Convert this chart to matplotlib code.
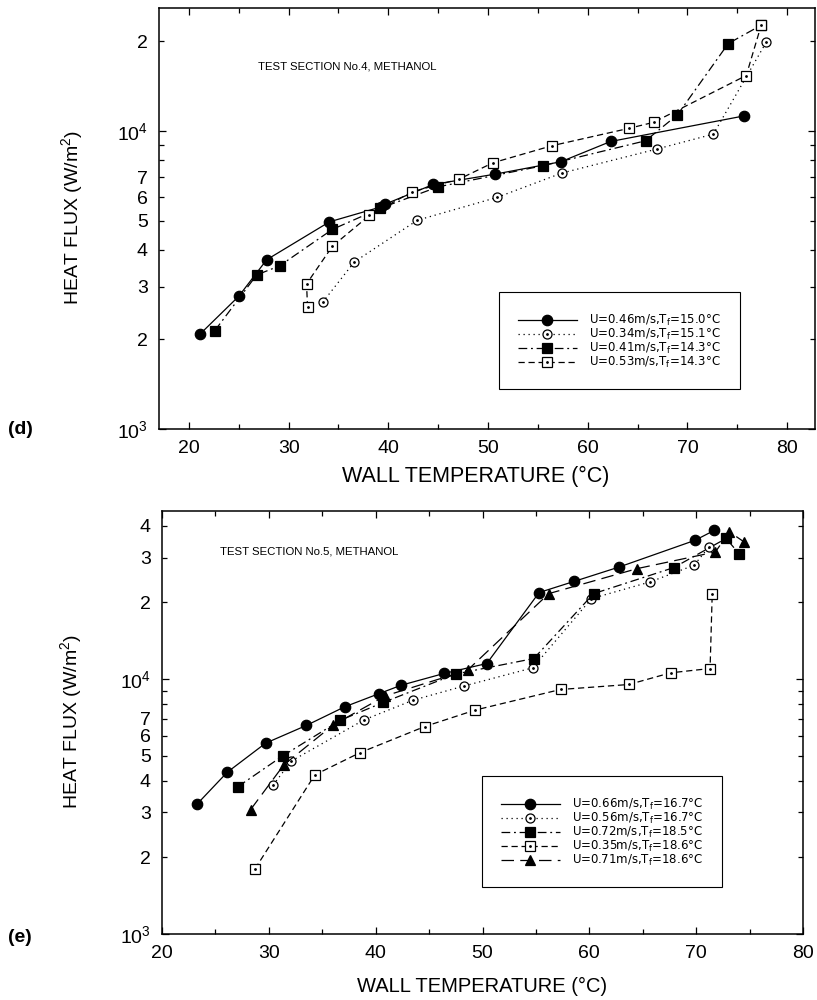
import numpy as np
import matplotlib
matplotlib.use('Agg')
import matplotlib.pyplot as plt
from matplotlib.ticker import MultipleLocator, LogLocator, FuncFormatter
from matplotlib.legend_handler import HandlerTuple

plt.rcParams['font.family'] = ['Liberation Sans', 'DejaVu Sans']

# ---- panel (d): test section No.4 ----
d_labels = [r'U=0.46m/s,T$_\mathregular{f}$=15.0°C',
            r'U=0.34m/s,T$_\mathregular{f}$=15.1°C',
            r'U=0.41m/s,T$_\mathregular{f}$=14.3°C',
            r'U=0.53m/s,T$_\mathregular{f}$=14.3°C']
d_T1 = [21.1, 25.0, 27.8, 34.1, 39.3, 39.7, 44.5, 50.7, 57.3, 62.3, 75.7]
d_q1 = [2080, 2790, 3700, 4960, 5570, 5690, 6620, 7170, 7890, 9230, 11250]
d_T2 = [33.4, 36.6, 42.9, 50.9, 57.4, 66.9, 72.6, 77.9]
d_q2 = [2660, 3640, 5020, 5990, 7230, 8700, 9770, 19870]
d_T3 = [22.6, 26.8, 29.1, 34.4, 39.2, 45.0, 55.5, 65.8, 69.0, 74.1, 77.4]
d_q3 = [2140, 3290, 3530, 4680, 5510, 6500, 7650, 9280, 11340, 19680, 22680]
d_T4 = [31.9, 31.8, 34.4, 38.1, 42.4, 47.1, 50.5, 56.4, 64.1, 66.6, 75.9, 77.4]
d_q4 = [2560, 3070, 4110, 5210, 6260, 6900, 7830, 8930, 10210, 10700, 15370, 22680]

# ---- panel (e): test section No.5 ----
e_labels = [r'U=0.66m/s,T$_\mathregular{f}$=16.7°C',
            r'U=0.56m/s,T$_\mathregular{f}$=16.7°C',
            r'U=0.72m/s,T$_\mathregular{f}$=18.5°C',
            r'U=0.35m/s,T$_\mathregular{f}$=18.6°C',
            r'U=0.71m/s,T$_\mathregular{f}$=18.6°C']
e_T1 = [23.3, 26.1, 29.7, 33.5, 37.1, 40.3, 42.4, 46.4, 50.4, 55.3, 58.6, 62.8, 69.9, 71.7]
e_q1 = [3240, 4310, 5610, 6580, 7790, 8770, 9470, 10530, 11520, 21880, 24210, 27560, 35080, 38370]
e_T2 = [30.4, 32.1, 38.9, 43.5, 48.3, 54.7, 60.2, 65.7, 69.8, 71.2]
e_q2 = [3840, 4770, 6920, 8270, 9410, 11080, 20710, 24090, 28000, 33030]
e_T3 = [27.1, 31.3, 36.7, 40.7, 47.5, 54.8, 60.4, 67.9, 72.8, 74.0]
e_q3 = [3785, 5000, 6900, 8100, 10480, 12050, 21660, 27400, 35660, 31120]
e_T4 = [28.7, 34.3, 38.5, 44.6, 49.3, 57.3, 63.7, 67.6, 71.3, 71.5]
e_q4 = [1800, 4210, 5140, 6520, 7560, 9110, 9530, 10590, 11010, 21600]
e_T5 = [28.3, 31.4, 36.0, 40.9, 48.6, 56.2, 64.5, 71.8, 73.1, 74.5]
e_q5 = [3080, 4610, 6600, 8600, 10850, 21660, 27170, 31560, 37860, 34520]

solid = '-'
dotted = (0, (1, 3))
dashdot = (0, (7, 3, 1.5, 3))
dashed = (0, (5, 3))
longdash = (0, (10, 5))

st_fcirc = dict(ls=solid, marker='o', mfc='k', ms=7.5)
st_ocirc = dict(ls=dotted, marker='o', mfc='w', ms=6.5)
st_fsq = dict(ls=dashdot, marker='s', mfc='k', ms=7)
st_osq = dict(ls=dashed, marker='s', mfc='w', ms=6.5)
st_tri = dict(ls=longdash, marker='^', mfc='k', ms=7)


def draw(ax, T, q, style):
    line, = ax.plot(T, q, color='k', mec='k', lw=0.9, mew=0.9, **style)
    if style['mfc'] == 'w':
        dot, = ax.plot(T, q, ls='none', marker='.', ms=2, color='k')
        return (line, dot)
    return (line,)


def minor_fmt(v, pos):
    dec = 10 ** np.floor(np.log10(v) + 1e-9)
    digit = int(round(v / dec))
    return str(digit) if 2 <= digit <= 7 else ''


def setup(ax, xlim, ylim):
    ax.set_yscale('log')
    ax.set_xlim(*xlim)
    ax.set_ylim(*ylim)
    ax.xaxis.set_major_locator(MultipleLocator(10))
    ax.xaxis.set_minor_locator(MultipleLocator(5))
    ax.yaxis.set_major_locator(LogLocator(base=10, numticks=10))
    ax.yaxis.set_minor_locator(LogLocator(base=10, subs=np.arange(2, 10), numticks=20))
    ax.yaxis.set_major_formatter(FuncFormatter(
        lambda v, p: r'$\mathregular{10^{%d}}$' % round(np.log10(v))))
    ax.yaxis.set_minor_formatter(FuncFormatter(minor_fmt))
    ax.tick_params(which='both', direction='in', top=True, right=True,
                   labelsize=14, pad=8, width=0.9)
    ax.tick_params(which='major', length=5)
    ax.tick_params(which='minor', length=3.5)
    for s in ax.spines.values():
        s.set_linewidth(1.1)


def add_legend(ax, handles, labels, anchor):
    leg = ax.legend(handles, labels, handler_map={tuple: HandlerTuple(ndivide=1, pad=0)},
                    loc='lower left', bbox_to_anchor=anchor, borderaxespad=0,
                    prop={'family': 'DejaVu Sans', 'size': 8.5},
                    title=' ', title_fontsize=3,
                    borderpad=1.6, handlelength=5.0, handletextpad=1.05, labelspacing=-0.1,
                    fancybox=False, framealpha=1, edgecolor='k')
    leg.get_frame().set_linewidth(0.8)


fig = plt.figure(figsize=(8.17, 10), dpi=100)

# panel d
ax1 = fig.add_axes([0.1946, 0.571, 0.803, 0.421])
h = [draw(ax1, d_T1, d_q1, st_fcirc),
     draw(ax1, d_T2, d_q2, st_ocirc),
     draw(ax1, d_T3, d_q3, st_fsq),
     draw(ax1, d_T4, d_q4, st_osq)]
setup(ax1, (17.0, 82.8), (1000, 25900))
ax1.set_xlabel('WALL TEMPERATURE (°C)', fontsize=15.5)
ax1.xaxis.set_label_coords(0.482, -0.088)
ax1.set_ylabel('HEAT FLUX (W/m$^\\mathregular{2}$)', fontsize=14)
ax1.yaxis.set_label_coords(-0.112, 0.502)
ax1.text(0.151, 0.861, 'TEST SECTION No.4, METHANOL', transform=ax1.transAxes,
         fontsize=8.2, va='center', ha='left')
add_legend(ax1, h, d_labels, (0.518, 0.095))

# panel e
ax2 = fig.add_axes([0.1983, 0.066, 0.7846, 0.423])
h = [draw(ax2, e_T1, e_q1, st_fcirc),
     draw(ax2, e_T2, e_q2, st_ocirc),
     draw(ax2, e_T3, e_q3, st_fsq),
     draw(ax2, e_T4, e_q4, st_osq),
     draw(ax2, e_T5, e_q5, st_tri)]
setup(ax2, (20, 80), (1000, 45700))
ax2.set_xlabel('WALL TEMPERATURE (°C)', fontsize=14.5)
ax2.xaxis.set_label_coords(0.50, -0.102)
ax2.set_ylabel('HEAT FLUX (W/m$^\\mathregular{2}$)', fontsize=14)
ax2.yaxis.set_label_coords(-0.120, 0.502)
ax2.text(0.0905, 0.905, 'TEST SECTION No.5, METHANOL', transform=ax2.transAxes,
         fontsize=8.2, va='center', ha='left')
add_legend(ax2, h, e_labels, (0.499, 0.111))

fig.text(8 / 817, 1 - 430 / 1000, '(d)', fontsize=14, weight='bold', va='center', ha='left')
fig.text(8 / 817, 1 - 937 / 1000, '(e)', fontsize=14, weight='bold', va='center', ha='left')

fig.savefig('out.png', dpi=100)
